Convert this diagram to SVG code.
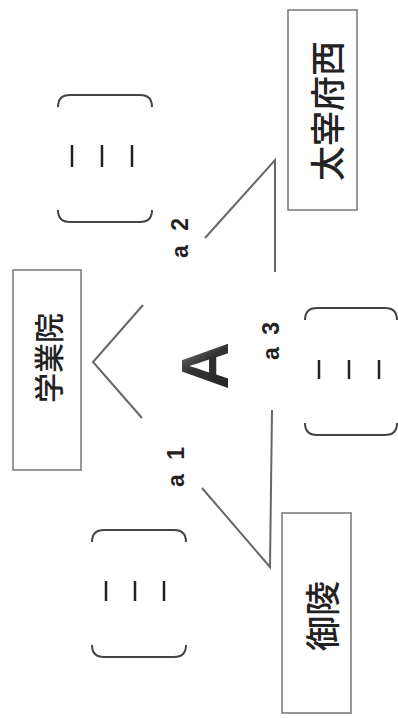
<svg xmlns="http://www.w3.org/2000/svg" width="398" height="718" viewBox="0 0 398 718">
<defs>
<style>
.box{fill:#fff;stroke:#777;stroke-width:1.5}
.cjk{font-family:"Noto Sans CJK JP","Noto Sans CJK SC",sans-serif;font-weight:500;fill:#222;text-anchor:middle;dominant-baseline:central}
.lbl{font-family:"Liberation Sans",Arial,sans-serif;font-weight:bold;font-size:23px;fill:#222;text-anchor:middle;dominant-baseline:central}
.con{fill:none;stroke:#666;stroke-width:2;stroke-linejoin:miter}
.brk{fill:none;stroke:#444;stroke-width:2}
.bar{stroke:#222;stroke-width:2.5}
</style>
<linearGradient id="ga" x1="0" y1="1" x2="1" y2="0">
<stop offset="0" stop-color="#222"/>
<stop offset="0.55" stop-color="#333"/>
<stop offset="1" stop-color="#999"/>
</linearGradient>
</defs>
<rect width="398" height="718" fill="#fff"/>

<g id="connectors">
<polyline class="con" points="143,305 93,362 142,418"/>
<polyline class="con" points="205,238 275,160 275,272"/>
<polyline class="con" points="202,488 270,567 272,410"/>
</g>

<g id="node-gakugyoin">
<rect class="box" x="13" y="270" width="68" height="200"/>
<text class="cjk" font-size="30" transform="translate(47,358) rotate(-90)">学業院</text>
</g>

<g id="node-dazaifunishi">
<rect class="box" x="288" y="10" width="69" height="200"/>
<text class="cjk" font-size="35" transform="translate(325,111) rotate(-90)">太宰府西</text>
</g>

<g id="node-goryo">
<rect class="box" x="282" y="513" width="69" height="200"/>
<text class="cjk" font-size="35" transform="translate(320,616) rotate(-90)">御陵</text>
</g>

<g id="bracket-1">
<path class="brk" d="M58,107 Q58,95 70,95 L140,95 Q152,95 152,107"/>
<path class="brk" d="M58,210 Q58,222 70,222 L140,222 Q152,222 152,210"/>
<line class="bar" x1="72" y1="145" x2="72" y2="167"/>
<line class="bar" x1="102" y1="145" x2="102" y2="167"/>
<line class="bar" x1="132" y1="145" x2="132" y2="167"/>
</g>

<g id="bracket-2">
<path class="brk" d="M305,320 Q305,308 317,308 L385,308 Q397,308 397,320"/>
<path class="brk" d="M305,423 Q305,435 317,435 L385,435 Q397,435 397,423"/>
<line class="bar" x1="319" y1="360" x2="319" y2="379"/>
<line class="bar" x1="349" y1="360" x2="349" y2="379"/>
<line class="bar" x1="379" y1="360" x2="379" y2="379"/>
</g>

<g id="bracket-3">
<path class="brk" d="M92,542 Q92,530 104,530 L174,530 Q186,530 186,542"/>
<path class="brk" d="M92,645 Q92,657 104,657 L174,657 Q186,657 186,645"/>
<line class="bar" x1="106" y1="581" x2="106" y2="601"/>
<line class="bar" x1="135" y1="581" x2="135" y2="601"/>
<line class="bar" x1="164" y1="581" x2="164" y2="601"/>
</g>

<g id="labels">
<text class="lbl" transform="translate(176,467) rotate(-90)" textLength="40" lengthAdjust="spacing">a 1</text>
<text class="lbl" transform="translate(180,238) rotate(-90)" textLength="40" lengthAdjust="spacing">a 2</text>
<text class="lbl" transform="translate(271,341) rotate(-90)" textLength="38" lengthAdjust="spacing">a 3</text>
<text font-family="Liberation Sans, Arial, sans-serif" font-weight="bold" font-size="66" fill="url(#ga)" text-anchor="middle" dominant-baseline="central" transform="translate(205,366) rotate(-90)">A</text>
</g>
</svg>
